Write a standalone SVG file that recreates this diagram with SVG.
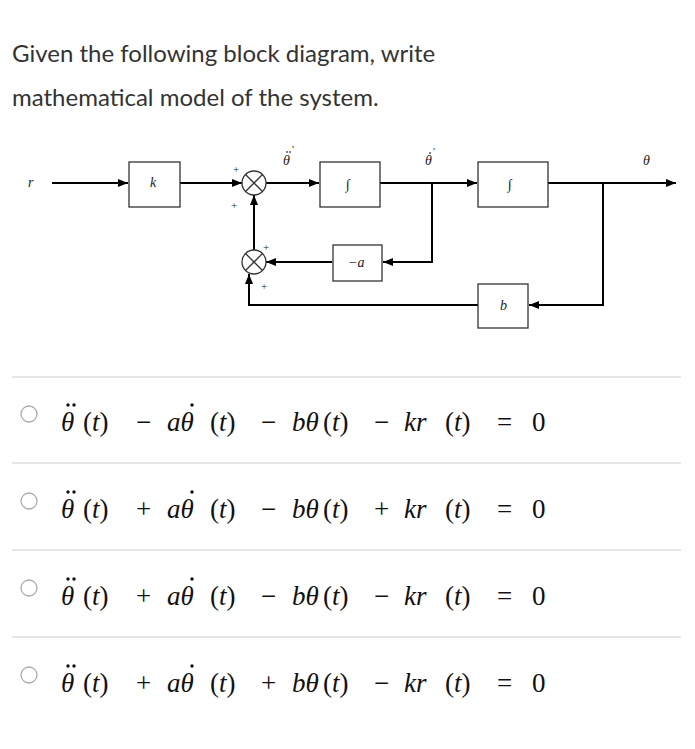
<svg xmlns="http://www.w3.org/2000/svg" width="695" height="749" viewBox="0 0 695 749">
<defs><marker id="ar" markerWidth="10" markerHeight="8" refX="10" refY="4" orient="auto" markerUnits="userSpaceOnUse"><path d="M0,0 L10,4 L0,8 Z" fill="#000"/></marker>
<g id="row"><circle cx="68" cy="-26" r="1.7"/><circle cx="74" cy="-26" r="1.7"/><circle cx="192" cy="-26" r="1.7"/></g></defs>
<style>
.q{font-family:Lato,"Open Sans",sans-serif;font-size:24px;fill:#333}
.b{fill:#fff;stroke:#333;stroke-width:1.3}
.l{fill:none;stroke:#000;stroke-width:2}
.t{font-family:"Liberation Serif",serif;font-style:italic;font-size:14px;fill:#222}
.s{font-family:"Liberation Serif",serif;font-size:11px;fill:#222}
.e{font-family:"Liberation Serif",serif;font-size:27px;fill:#111}
.i{font-style:italic}
.sep{stroke:#ddd;stroke-width:1.5}
.rb{fill:#fff;stroke:#aaa;stroke-width:1.3}
</style>
<rect width="695" height="749" fill="#fff"/>
<text class="q" x="12" y="62">Given the following block diagram, write</text>
<text class="q" x="12" y="106">mathematical model of the system.</text>
<g id="connectors">
<path class="l" d="M52,183 H128" marker-end="url(#ar)"/>
<path class="l" d="M180,183 H242" marker-end="url(#ar)"/>
<path class="l" d="M266,183 H319" marker-end="url(#ar)"/>
<path class="l" d="M380,183 H477" marker-end="url(#ar)"/>
<path class="l" d="M548,183 H676" marker-end="url(#ar)"/>
<path class="l" d="M432,183 V262 H383" marker-end="url(#ar)"/>
<path class="l" d="M332,262 H266" marker-end="url(#ar)"/>
<path class="l" d="M254,250 V195" marker-end="url(#ar)"/>
<path class="l" d="M603,183 V305 H529" marker-end="url(#ar)"/>
<path class="l" d="M478,305 H249 V274" marker-end="url(#ar)"/>
</g>
<text class="t" x="28" y="187">r</text>
<g id="k"><rect class="b" x="129" y="162" width="51" height="45"/><text class="t" x="150" y="187">k</text></g>
<g id="sum1"><circle class="b" cx="254" cy="183" r="12"/><path d="M245.5,174.5 L262.5,191.5 M262.5,174.5 L245.5,191.5" stroke="#333" stroke-width="1.3"/><text class="s" x="233" y="173">+</text><text class="s" x="231" y="209">+</text></g>
<g id="int1"><rect class="b" x="320" y="162" width="60" height="45"/><text class="t" x="346" y="189">∫</text></g>
<g id="int2"><rect class="b" x="478" y="162" width="70" height="45"/><text class="t" x="508" y="189">∫</text></g>
<g id="sum2"><circle class="b" cx="254" cy="262" r="12"/><path d="M245.5,253.5 L262.5,270.5 M262.5,253.5 L245.5,270.5" stroke="#333" stroke-width="1.3"/><text class="s" x="263" y="251">+</text><text class="s" x="261" y="290">+</text></g>
<g id="na"><rect class="b" x="333" y="245" width="49" height="36"/><text class="t" x="348" y="267">−a</text></g>
<g id="b"><rect class="b" x="478" y="284" width="50" height="44"/><text class="t" x="500" y="310">b</text></g>
<g fill="#444"><text class="t" x="283" y="165">θ</text><circle cx="287" cy="152" r="0.9"/><circle cx="290" cy="152" r="0.9"/><text class="s" x="292" y="153">'</text>
<text class="t" x="425" y="165">θ</text><circle cx="430" cy="153" r="0.9"/><text class="s" x="433" y="155">'</text>
<text class="t" x="643" y="165">θ</text></g>
<line class="sep" x1="12" y1="377" x2="681" y2="377"/>
<line class="sep" x1="12" y1="463" x2="681" y2="463"/>
<line class="sep" x1="12" y1="550" x2="681" y2="550"/>
<line class="sep" x1="12" y1="637" x2="681" y2="637"/>
<circle class="rb" cx="29" cy="414" r="8"/>
<circle class="rb" cx="29" cy="501" r="8"/>
<circle class="rb" cx="29" cy="588" r="8"/>
<circle class="rb" cx="29" cy="675" r="8"/>
<g fill="#111">
<use href="#row" y="431"/><use href="#row" y="518"/><use href="#row" y="605"/><use href="#row" y="692"/>
</g>
<text class="e" y="431"><tspan class="i" x="61">θ</tspan><tspan x="83">(</tspan><tspan class="i">t</tspan>)<tspan x="136">−</tspan><tspan class="i" x="167">aθ</tspan><tspan x="210">(</tspan><tspan class="i">t</tspan>)<tspan x="261">−</tspan><tspan class="i" x="292">bθ</tspan><tspan x="323">(</tspan><tspan class="i">t</tspan>)<tspan x="374">−</tspan><tspan class="i" x="404">kr</tspan><tspan x="445">(</tspan><tspan class="i">t</tspan>)<tspan x="497">=</tspan><tspan x="532">0</tspan></text>
<text class="e" y="518"><tspan class="i" x="61">θ</tspan><tspan x="83">(</tspan><tspan class="i">t</tspan>)<tspan x="136">+</tspan><tspan class="i" x="167">aθ</tspan><tspan x="210">(</tspan><tspan class="i">t</tspan>)<tspan x="261">−</tspan><tspan class="i" x="292">bθ</tspan><tspan x="323">(</tspan><tspan class="i">t</tspan>)<tspan x="374">+</tspan><tspan class="i" x="404">kr</tspan><tspan x="445">(</tspan><tspan class="i">t</tspan>)<tspan x="497">=</tspan><tspan x="532">0</tspan></text>
<text class="e" y="605"><tspan class="i" x="61">θ</tspan><tspan x="83">(</tspan><tspan class="i">t</tspan>)<tspan x="136">+</tspan><tspan class="i" x="167">aθ</tspan><tspan x="210">(</tspan><tspan class="i">t</tspan>)<tspan x="261">−</tspan><tspan class="i" x="292">bθ</tspan><tspan x="323">(</tspan><tspan class="i">t</tspan>)<tspan x="374">−</tspan><tspan class="i" x="404">kr</tspan><tspan x="445">(</tspan><tspan class="i">t</tspan>)<tspan x="497">=</tspan><tspan x="532">0</tspan></text>
<text class="e" y="692"><tspan class="i" x="61">θ</tspan><tspan x="83">(</tspan><tspan class="i">t</tspan>)<tspan x="136">+</tspan><tspan class="i" x="167">aθ</tspan><tspan x="210">(</tspan><tspan class="i">t</tspan>)<tspan x="261">+</tspan><tspan class="i" x="292">bθ</tspan><tspan x="323">(</tspan><tspan class="i">t</tspan>)<tspan x="374">−</tspan><tspan class="i" x="404">kr</tspan><tspan x="445">(</tspan><tspan class="i">t</tspan>)<tspan x="497">=</tspan><tspan x="532">0</tspan></text>
</svg>
